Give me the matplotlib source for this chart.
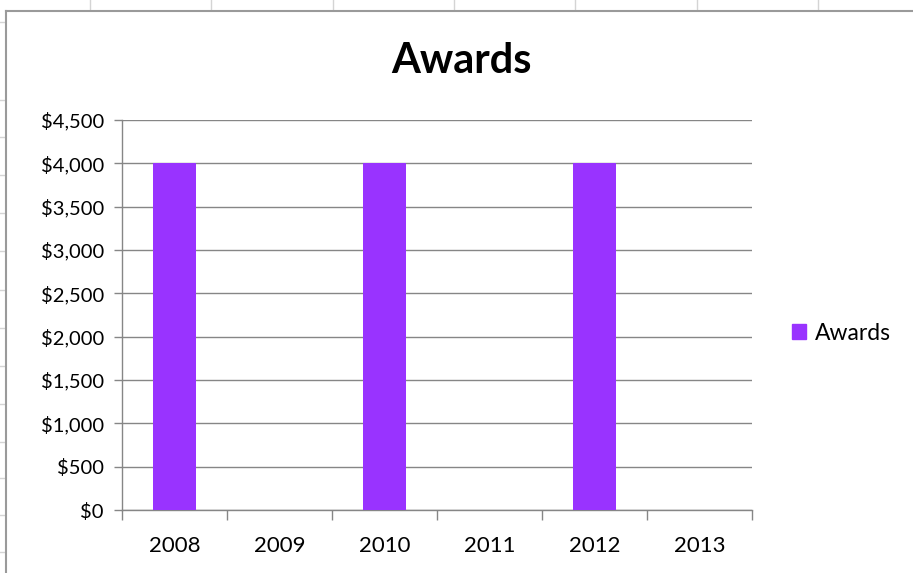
import matplotlib.pyplot as plt
from matplotlib.patches import Rectangle
from matplotlib.lines import Line2D
from matplotlib.ticker import FuncFormatter, MultipleLocator

years = ['2008', '2009', '2010', '2011', '2012', '2013']
awards = [4000, 0, 4000, 0, 4000, 0]

bar_color = '#9933ff'
grid_color = '#868686'
plt.rcParams['font.family'] = ['Lato', 'DejaVu Sans']

fig = plt.figure(figsize=(9.13, 5.73), dpi=100)
W, H = 913, 573

# spreadsheet cells behind the chart
for x in [90, 211, 333, 454, 575, 697, 818]:
    fig.add_artist(Line2D([x / W, x / W], [1 - 0 / H, 1 - 10 / H], color='#d4d4d4', lw=1))
for y in [22, 100, 137, 175, 213, 251, 290, 328, 366, 404, 442, 478, 515, 552]:
    fig.add_artist(Line2D([0, 5 / W], [1 - y / H, 1 - y / H], color='#d4d4d4', lw=1))

# chart border (only top and left are visible)
fig.add_artist(Line2D([6 / W, 1], [1 - 11 / H, 1 - 11 / H], color='#9a9a9a', lw=1.5))
fig.add_artist(Line2D([6 / W, 6 / W], [0, 1 - 11 / H], color='#9a9a9a', lw=1.5))

ax = fig.add_axes([122 / W, 1 - 510 / H, (752 - 122) / W, (510 - 120) / H])
x = range(len(years))
ax.bar(x, awards, width=0.41, color=bar_color, zorder=3)

ax.set_xlim(-0.5, len(years) - 0.5)
ax.set_ylim(0, 4500)
ax.yaxis.set_major_locator(MultipleLocator(500))
ax.yaxis.set_major_formatter(FuncFormatter(lambda v, p: '${:,.0f}'.format(v)))
ax.grid(axis='y', color=grid_color, lw=1, zorder=0)

ax.set_xticks([i for i in x])
ax.set_xticklabels(years)
ax.set_xticks([i - 0.5 for i in range(len(years) + 1)], minor=True)
ax.tick_params(axis='x', which='major', length=0, pad=19, labelsize=16)
ax.tick_params(axis='x', which='minor', length=7, color=grid_color, width=1)
ax.tick_params(axis='y', length=6, color=grid_color, width=1, labelsize=14.5, pad=7)

for s in ['top', 'right']:
    ax.spines[s].set_visible(False)
for s in ['left', 'bottom']:
    ax.spines[s].set_color(grid_color)
    ax.spines[s].set_linewidth(1)

fig.text(461 / W, 1 - 61 / H, 'Awards', ha='center', va='center', fontsize=30, fontweight='bold')

handle = Rectangle((0, 0), 1, 1, color=bar_color)
fig.legend([handle], ['Awards'], loc='center left', bbox_to_anchor=(792 / W, 1 - 333 / H),
           frameon=False, fontsize=16.5, handlelength=0.6, handleheight=0.6, handletextpad=0.4,
           borderaxespad=0, borderpad=0)

fig.savefig('out.png', dpi=100)
